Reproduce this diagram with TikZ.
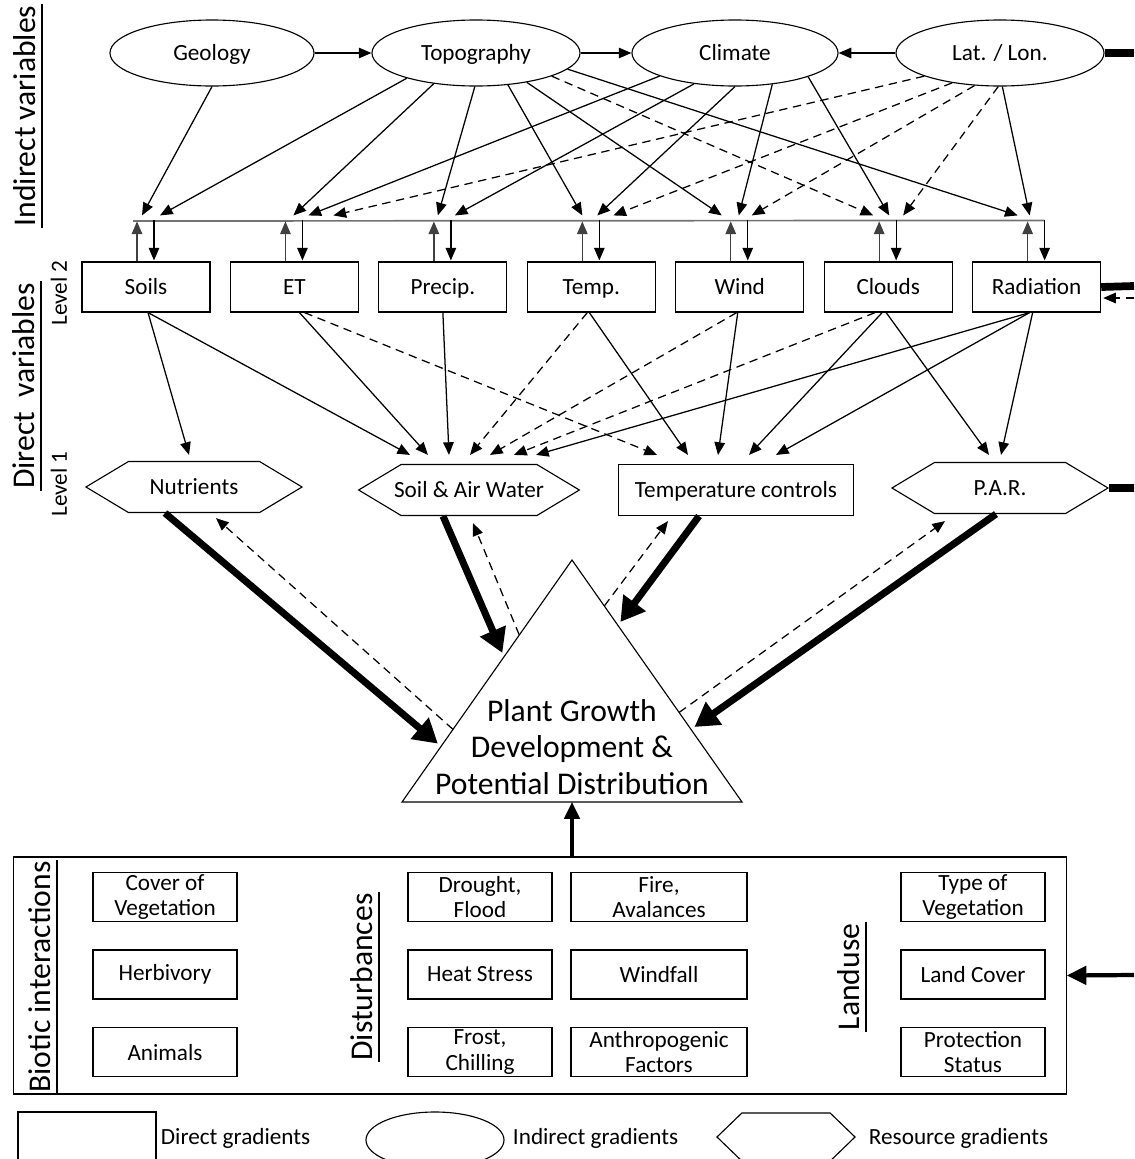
\documentclass[tikz,border=0pt]{standalone}
\usepackage{fontspec}
\setmainfont{Carlito}
\usetikzlibrary{arrows.meta, positioning, shapes.geometric, shapes.symbols, calc}

\begin{document}
\begin{tikzpicture}[x=0.025cm, y=-0.025cm, node distance=3.71cm, on grid,
    font=\fontsize{16.5}{18}\selectfont,
    indvar/.style={ellipse, draw, line width=0.8pt, minimum width=5.1cm, minimum height=1.65cm,
                   text height=12pt, text depth=2pt},
    dirvar/.style={rectangle, draw, line width=0.8pt, minimum width=3.2cm, minimum height=1.25cm,
                   text height=12pt, text depth=2pt},
    resvar/.style={signal, signal to=east and west, signal pointer angle=62, draw, line width=0.8pt,
                   minimum width=5.4cm, minimum height=1.275cm, text height=12pt, text depth=2pt,
                   inner xsep=-5pt},
    factor/.style={rectangle, draw, line width=0.8pt, minimum width=3.6cm, minimum height=1.225cm,
                   align=center, inner ysep=0pt},
    arr/.style={-{Triangle[length=9pt,width=7.5pt]}, line width=0.9pt},
    darr/.style={arr, dash pattern=on 6pt off 4pt},
    uparr/.style={arr, black!75},
    bigarr/.style={-{Triangle[length=17pt,width=19pt]}, line width=5pt, shorten >=3pt},
    edgebar/.style={line width=5.5pt},
    busline/.style={line width=1.2pt, black!55},
    sidelab/.style={rotate=90, anchor=south, font=\fontsize{22.5}{26}\selectfont, inner xsep=1pt, inner ysep=4pt},
    uline/.style={line width=1.8pt},
    levlab/.style={rotate=90, inner sep=0pt}
  ]
  \useasboundingbox (0,0) rectangle (1134,1159);

  % indirect variables
  \node[indvar] (geo) at (212,53) {Geology};
  \node[indvar, minimum width=5.2cm] (topo) at (476,53) {Topography};
  \node[indvar, minimum width=5.15cm] (clim) at (735,53) {Climate};
  \node[indvar, minimum width=5.2cm] (latlon) at (1000,53) {Lat. / Lon.};

  \draw[arr] (geo) -- (topo);
  \draw[arr] (topo) -- (clim);
  \draw[arr] (latlon) -- (clim);
  \coordinate (edge-ll) at (1134,53);
  \draw[edgebar] (latlon) -- (edge-ll);

  % direct variables, level 2
  \node[dirvar] (soils) at (146,287) {Soils};
  \node[dirvar, right=of soils] (et) {ET};
  \node[dirvar, right=of et] (precip) {Precip.};
  \node[dirvar, right=of precip] (temp) {Temp.};
  \node[dirvar, right=of temp] (wind) {Wind};
  \node[dirvar, right=of wind] (clouds) {Clouds};
  \node[dirvar, right=of clouds] (rad) {Radiation};

  \coordinate (edge-rad) at (1134,286);
  \coordinate (edge-rad-d) at (1134,298);
  \draw[edgebar] (rad.east) -- (edge-rad);
  \draw[darr] (edge-rad-d) -- ([shift={(2,11)}]rad.east);

  % bus line between the two groups
  \coordinate (bus-w) at (133,221);
  \path ([shift={(8,-41)}]rad.north) coordinate (bus-e);
  \draw[busline] (bus-w) -- (bus-e);
  \foreach \b in {soils, et, precip, temp, wind, clouds, rad} {
    \draw[uparr] ([shift={(-9,0)}]\b.north) -- ([shift={(-9,-40)}]\b.north);
    \draw[arr] ([shift={(8,-41)}]\b.north) -- ([shift={(8,-1)}]\b.north);
  }

  % indirect -> direct
  \draw[arr] (geo.south) -- ([shift={(-4,-46)}]soils.north);
  \foreach \a/\b/\dx in {200/soils/14, 216/et/-1, 268/precip/-5, 315/temp/-9, 330/wind/-18, 350/rad/-19}
    \draw[arr] (topo.\a) -- ([shift={(\dx,-46)}]\b.north);
  \draw[darr] (topo.343) -- ([shift={(-15,-46)}]clouds.north);
  \foreach \a/\b/\dx in {197/et/14, 217/precip/12, 270/temp/6, 320/wind/-1, 342/clouds/1}
    \draw[arr] (clim.\a) -- ([shift={(\dx,-46)}]\b.north);
  \foreach \a/\b/\dx in {197/et/39, 212/temp/22, 232/wind/12, 267/clouds/15}
    \draw[darr] (latlon.\a) -- ([shift={(\dx,-46)}]\b.north);
  \draw[arr] (latlon.274) -- ([shift={(-7,-46)}]rad.north);

  % direct variables, level 1
  \node[resvar] (nutr) at (194,487) {Nutrients};
  \node[resvar] (saw) at (469,490) {Soil \& Air Water};
  \node[dirvar, minimum width=5.875cm, minimum height=1.275cm] (tc) at (736,490) {Temperature controls};
  \node[resvar] (par) at (1000,488) {P.A.R.};
  \coordinate (edge-par) at (1134,488);
  \draw[edgebar] (par) -- (edge-par);

  % level 2 -> level 1
  \foreach \s/\sx/\t/\tx/\ty in {soils/2/nutr/-5/-6, soils/2/saw/-59/-9, et/5/saw/-41/-9,
      precip/0/saw/-20/-9, temp/-2/tc/-48/-9, wind/-2/tc/-18/-9, clouds/-6/tc/13/-9,
      clouds/-2/par/-11/-7, rad/-7/saw/67/-9, rad/-7/tc/40/-9, rad/-4/par/1/-7}
    \draw[arr] ([shift={(\sx,0)}]\s.south) -- ([shift={(\tx,\ty)}]\t.north);
  \foreach \s/\sx/\t/\tx/\ty in {et/10/tc/-79/-9, temp/-4/saw/1/-9, wind/-3/saw/21/-9, clouds/-13/saw/45/-9}
    \draw[darr] ([shift={(\sx,0)}]\s.south) -- ([shift={(\tx,\ty)}]\t.north);

  % plant growth
  \coordinate (apex) at (572,560);
  \coordinate (bl) at (402,802);
  \coordinate (br) at (742,802);
  \draw[line width=0.8pt] (apex) -- (bl) -- (br) -- cycle;
  \node[align=center, font=\fontsize{22.5}{26}\selectfont] (plant) at (572,747)
    {Plant Growth\\Development \&\\Potential Distribution};

  \coordinate (pg-nut) at ($(apex)!0.77!(bl)$);
  \coordinate (pg-nut-d) at ($(apex)!0.70!(bl)$);
  \coordinate (pg-saw) at ($(apex)!0.40!(bl)$);
  \coordinate (pg-saw-d) at ($(apex)!0.31!(bl)$);
  \coordinate (pg-tc) at ($(apex)!0.27!(br)$);
  \coordinate (pg-tc-d) at ($(apex)!0.19!(br)$);
  \coordinate (pg-par) at ($(apex)!0.70!(br)$);
  \coordinate (pg-par-d) at ($(apex)!0.63!(br)$);
  \coordinate (pg-base) at (572,802);

  \draw[bigarr] ([shift={(-29,0)}]nutr.south) -- (pg-nut);
  \draw[darr] (pg-nut-d) -- ([shift={(22,5)}]nutr.south);
  \draw[bigarr] ([shift={(-26,0)}]saw.south) -- (pg-saw);
  \draw[darr] (pg-saw-d) -- ([shift={(4,7)}]saw.south);
  \draw[bigarr] ([shift={(-37,0)}]tc.south) -- (pg-tc);
  \draw[darr] (pg-tc-d) -- ([shift={(-68,5)}]tc.south);
  \draw[bigarr] ([shift={(-4,0)}]par.south) -- (pg-par);
  \draw[darr] (pg-par-d) -- ([shift={(-55,7)}]par.south);

  % side labels
  \node[sidelab] (indlab) at (42,116) {Indirect variables};
  \draw[uline] (indlab.south west) -- (indlab.south east);
  \node[sidelab] (dirlab) at (41,386) {Direct~ variables};
  \draw[uline] (dirlab.south west) -- (dirlab.south east);
  \node[levlab] (lev2) at (59,293) {Level 2};
  \node[levlab] (lev1) at (59,484) {Level 1};

  % biotic interactions, disturbances, landuse
  \node[draw, line width=0.8pt, minimum width=26.3cm, minimum height=5.925cm] (factors) at (540,975.5) {};
  \coordinate (edge-fac) at (1134,975);
  \draw[-{Triangle[length=14pt,width=13pt]}, line width=3pt] (edge-fac) -- (factors.east);
  \draw[-{Triangle[length=12pt,width=11pt]}, line width=2.2pt] ([shift={(32,0)}]factors.north) -- (pg-base);

  \node[sidelab] (biolab) at (57,977) {Biotic interactions};
  \draw[uline] (biolab.south west) -- (biolab.south east);
  \node[sidelab] (distlab) at (379,977) {Disturbances};
  \draw[uline] (distlab.south west) -- (distlab.south east);
  \node[sidelab] (landlab) at (866,977) {Landuse};
  \draw[uline] (landlab.south west) -- (landlab.south east);

  \node[factor] (cover) at (165,897) {Cover of\\Vegetation};
  \node[factor, below=1.9375cm of cover] (herb) {Herbivory};
  \node[factor, below=1.9375cm of herb] (anim) {Animals};

  \node[factor] (drought) at (480,897) {Drought,\\Flood};
  \node[factor, below=1.9375cm of drought] (heat) {Heat Stress};
  \node[factor, below=1.9375cm of heat] (frost) {Frost,\\Chilling};

  \node[factor, minimum width=4.4cm] (fire) at (659,897) {Fire,\\Avalances};
  \node[factor, minimum width=4.4cm, below=1.9375cm of fire] (windfall) {Windfall};
  \node[factor, minimum width=4.4cm, below=1.9375cm of windfall] (anthro) {Anthropogenic\\Factors};

  \node[factor] (vegtype) at (973,897) {Type of\\Vegetation};
  \node[factor, below=1.9375cm of vegtype] (landcov) {Land Cover};
  \node[factor, below=1.9375cm of landcov] (protect) {Protection\\Status};

  % legend
  \node[dirvar, minimum width=3.45cm, minimum height=1.35cm] (leg-dir) at (87,1139) {};
  \node[anchor=west] (leg-dir-t) at (156,1138) {Direct gradients};
  \node[indvar, minimum width=3.45cm, minimum height=1.4cm] (leg-ind) at (435,1140) {};
  \node[anchor=west] (leg-ind-t) at (508,1138) {Indirect gradients};
  \node[resvar, signal pointer angle=88, minimum width=3.45cm, minimum height=1.2cm] (leg-res) at (786,1137) {};
  \node[anchor=west] (leg-res-t) at (864,1138) {Resource gradients};
\end{tikzpicture}
\end{document}
